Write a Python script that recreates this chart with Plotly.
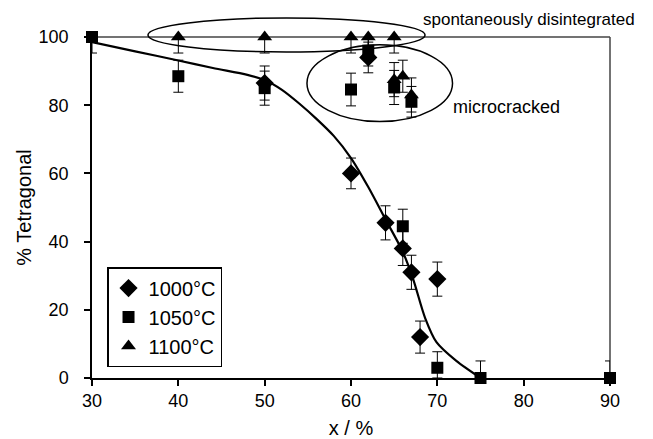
import plotly.graph_objects as go

# ---- data ----
x1000 = [50, 60, 62, 64, 66, 67, 68, 70]
y1000 = [86.5, 60, 94, 45.5, 38, 31, 12, 29]
e1000 = [5, 4.5, 4.5, 5, 5, 5, 4.7, 5]

x1050 = [30, 40, 50, 60, 62, 65, 66, 67, 70, 75, 90]
y1050 = [100, 88.5, 85, 84.6, 96, 85.2, 44.5, 81, 3, 0, 0]
e1050_plus = [0, 4.7, 5, 4.8, 4.5, 5, 5, 4.5, 4.7, 5, 5]
e1050_minus = [4.7, 4.7, 5, 4.8, 4.5, 5, 5, 4.5, 3, 0, 0]

x1100 = [40, 50, 60, 62, 65, 65, 66, 67]
y1100 = [100, 100, 100, 100, 100, 87.5, 88.5, 83]
e1100_plus = [0, 0, 0, 0, 0, 5, 4.7, 5]
e1100_minus = [4.7, 4.7, 4.7, 4.7, 4.7, 5, 4.7, 5]

fit_x = [30, 35, 40, 44, 48, 50, 52, 54, 56, 58, 60, 62, 64, 66, 67.2, 68.6, 69.9, 72.2, 75]
fit_y = [98.5, 95.8, 93.1, 90.9, 88.9, 87.4, 84.5, 80.5, 76, 71, 64.5, 56, 46.5, 37, 29, 17.5, 10.5, 5, 0]

x_ticks = [30, 40, 50, 60, 70, 80, 90]
y_ticks = [0, 20, 40, 60, 80, 100]

FONT = "Liberation Sans, Arial, sans-serif"

fig = go.Figure()

fig.add_trace(go.Scatter(x=fit_x, y=fit_y, mode="lines", showlegend=False,
                         line=dict(color="black", width=2.2, shape="spline", smoothing=0.8),
                         hoverinfo="skip"))

def eb(plus, minus=None):
    d = dict(type="data", array=plus, color="black", thickness=1, width=5)
    if minus is not None:
        d["symmetric"] = False
        d["arrayminus"] = minus
    return d

fig.add_trace(go.Scatter(x=x1000, y=y1000, mode="markers", name="1000°C",
                         marker=dict(symbol="diamond", size=14, color="black"),
                         error_y=eb(e1000), cliponaxis=False))
fig.add_trace(go.Scatter(x=x1050, y=y1050, mode="markers", name="1050°C",
                         marker=dict(symbol="square", size=12, color="black"),
                         error_y=eb(e1050_plus, e1050_minus), cliponaxis=False))
fig.add_trace(go.Scatter(x=x1100, y=y1100, mode="markers", name="1100°C",
                         marker=dict(symbol="triangle-up", size=13, color="black"),
                         error_y=eb(e1100_plus, e1100_minus), cliponaxis=False))

shapes = [
    dict(type="line", xref="paper", yref="paper", x0=0, x1=1, y0=1, y1=1,
         line=dict(color="#444", width=1.5), layer="below"),
    dict(type="line", xref="paper", yref="paper", x0=1, x1=1, y0=0, y1=1,
         line=dict(color="#444", width=1.5), layer="below"),
    dict(type="circle", xref="paper", yref="paper", x0=0.108, x1=0.643, y0=0.956, y1=1.056,
         line=dict(color="black", width=1.5)),
    dict(type="circle", xref="paper", yref="paper", x0=0.415, x1=0.696, y0=0.752, y1=0.977,
         line=dict(color="black", width=1.5)),
]

annotations = [
    dict(x=0.635, y=1.050, xref="paper", yref="paper", text="spontaneously disintegrated",
         showarrow=False, xanchor="left", yanchor="middle",
         font=dict(family=FONT, size=17, color="black")),
    dict(x=0.693, y=0.796, xref="paper", yref="paper", text="microcracked",
         showarrow=False, xanchor="left", yanchor="middle",
         font=dict(family=FONT, size=18, color="black")),
]

# page body has an 8px default margin; compensate so the plot sits where the reference has it
fig.update_layout(
    width=645, height=431,
    margin=dict(l=84, r=43, t=29, b=61),
    paper_bgcolor="white", plot_bgcolor="white",
    font=dict(family=FONT, color="black"),
    shapes=shapes, annotations=annotations,
    legend=dict(x=0.029, y=0.032, xanchor="left", yanchor="bottom",
                bordercolor="black", borderwidth=1.5, bgcolor="white",
                font=dict(family=FONT, size=20), itemwidth=30,
                tracegroupgap=2),
    xaxis=dict(range=[30, 90], tickvals=x_ticks, showgrid=False, zeroline=False,
               showline=True, linecolor="black", linewidth=1.5, automargin=False,
               ticks="outside", ticklen=6, tickcolor="black", tickwidth=1.5,
               tickfont=dict(size=18), title=dict(text="x / %", font=dict(size=20), standoff=12)),
    yaxis=dict(range=[0, 100], tickvals=y_ticks, showgrid=False, zeroline=False,
               showline=True, linecolor="black", linewidth=1.5, automargin=False,
               ticks="outside", ticklen=6, tickcolor="black", tickwidth=1.5,
               ticklabelstandoff=12,
               tickfont=dict(size=18), title=dict(text="% Tetragonal", font=dict(size=20), standoff=2)),
)

fig.write_html("out.html")
